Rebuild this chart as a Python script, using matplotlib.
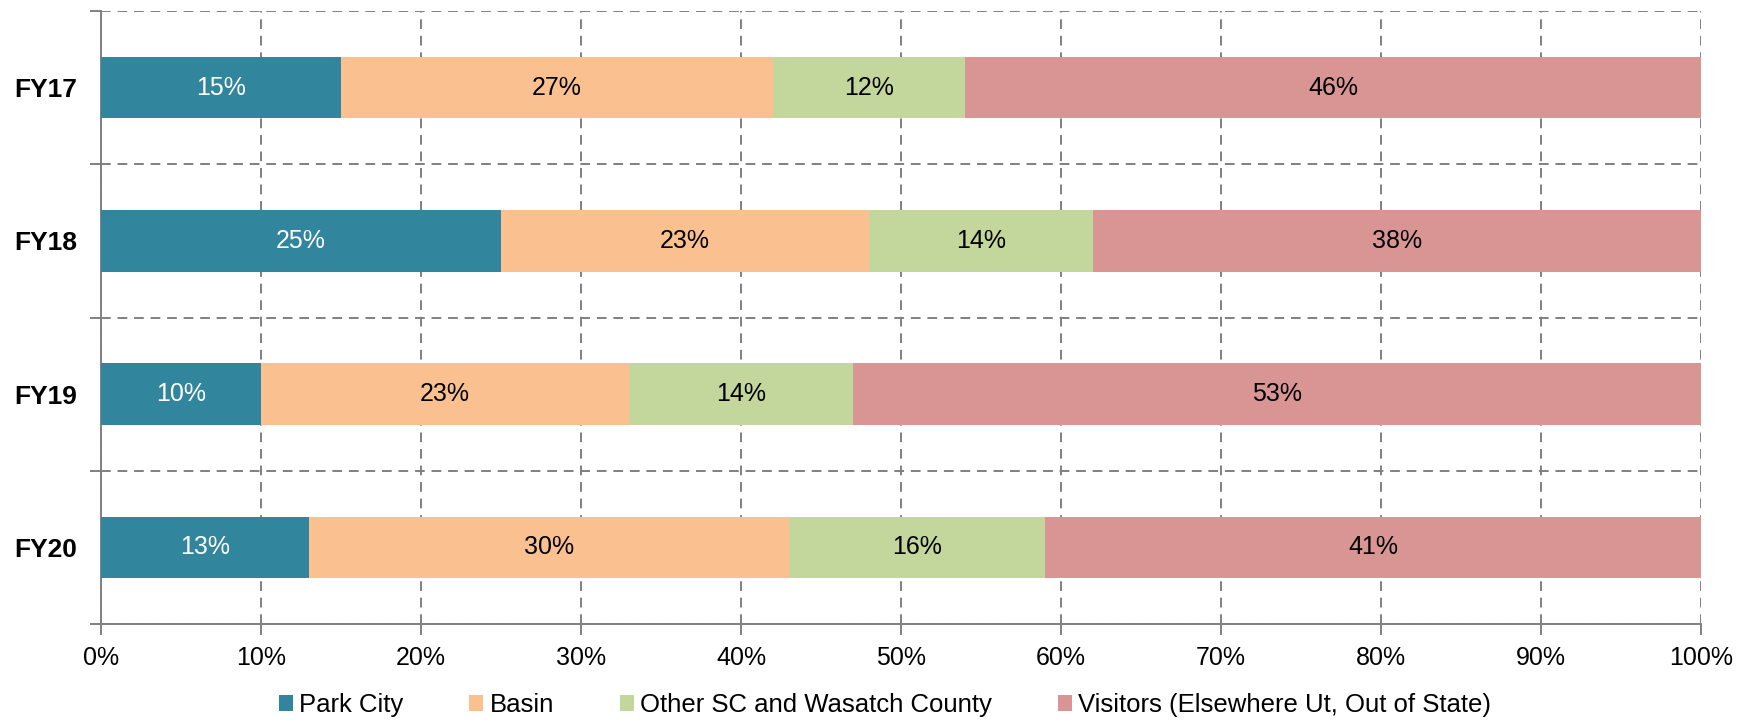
import numpy as np
import matplotlib.pyplot as plt
from matplotlib.ticker import FixedLocator, PercentFormatter

plt.rcParams['font.family'] = ['Liberation Sans', 'DejaVu Sans']

years = ['FY17', 'FY18', 'FY19', 'FY20']
series = ['Park City', 'Basin', 'Other SC and Wasatch County',
          'Visitors (Elsewhere Ut, Out of State)']
park_city = [15, 25, 10, 13]
basin = [27, 23, 23, 30]
other_sc = [12, 14, 14, 16]
visitors = [46, 38, 53, 41]

colors = ['#31859c', '#fac090', '#c3d69b', '#d99594']
text_colors = ['white', 'black', 'black', 'black']

fig = plt.figure(figsize=(17.51, 7.22), dpi=100)
ax = fig.add_axes([101/1751, 1 - 624/722, 1600/1751, 613/722])

y = np.arange(len(years))
left = np.zeros(len(years))
for vals, name, c, tc in zip([park_city, basin, other_sc, visitors], series, colors, text_colors):
    vals = np.array(vals, dtype=float)
    ax.barh(y, vals, left=left, height=0.4, color=c, label=name, zorder=3)
    for yi, l, v in zip(y, left, vals):
        ax.text(l + v / 2, yi, f'{v:.0f}%', ha='center', va='center',
                color=tc, fontsize=18, zorder=4)
    left += vals

dash = (0, (5, 3.5))
ax.set_xlim(0, 100)
ax.set_ylim(3.5, -0.5)
ax.set_yticks(y)
ax.set_yticklabels(years, fontsize=19, fontweight='bold')
ax.yaxis.set_minor_locator(FixedLocator(np.arange(-0.5, 4.0, 1.0)))
ax.tick_params(axis='y', which='major', length=0, pad=17)
ax.tick_params(axis='y', which='minor', length=8, color='#808080', width=1.4)
ax.set_xticks(np.arange(0, 101, 10))
ax.xaxis.set_major_formatter(PercentFormatter(decimals=0))
ax.tick_params(axis='x', labelsize=18, length=8, color='#808080', width=1.4, pad=8)

ax.grid(axis='x', which='major', linestyle=dash, color='#808080', linewidth=1.4, zorder=1)
ax.grid(axis='y', which='minor', linestyle=dash, color='#808080', linewidth=1.4, zorder=1)

for s in ['top', 'right']:
    ax.spines[s].set_visible(False)
for s in ['left', 'bottom']:
    ax.spines[s].set_color('#808080')
    ax.spines[s].set_linewidth(1.4)

ax.legend(loc='center', bbox_to_anchor=(0.49, -0.132), ncol=4, frameon=False,
          fontsize=18.5, handlelength=0.55, handleheight=0.55, handletextpad=0.25,
          columnspacing=2.55, borderpad=0, borderaxespad=0)

fig.savefig('out.png', dpi=100)
